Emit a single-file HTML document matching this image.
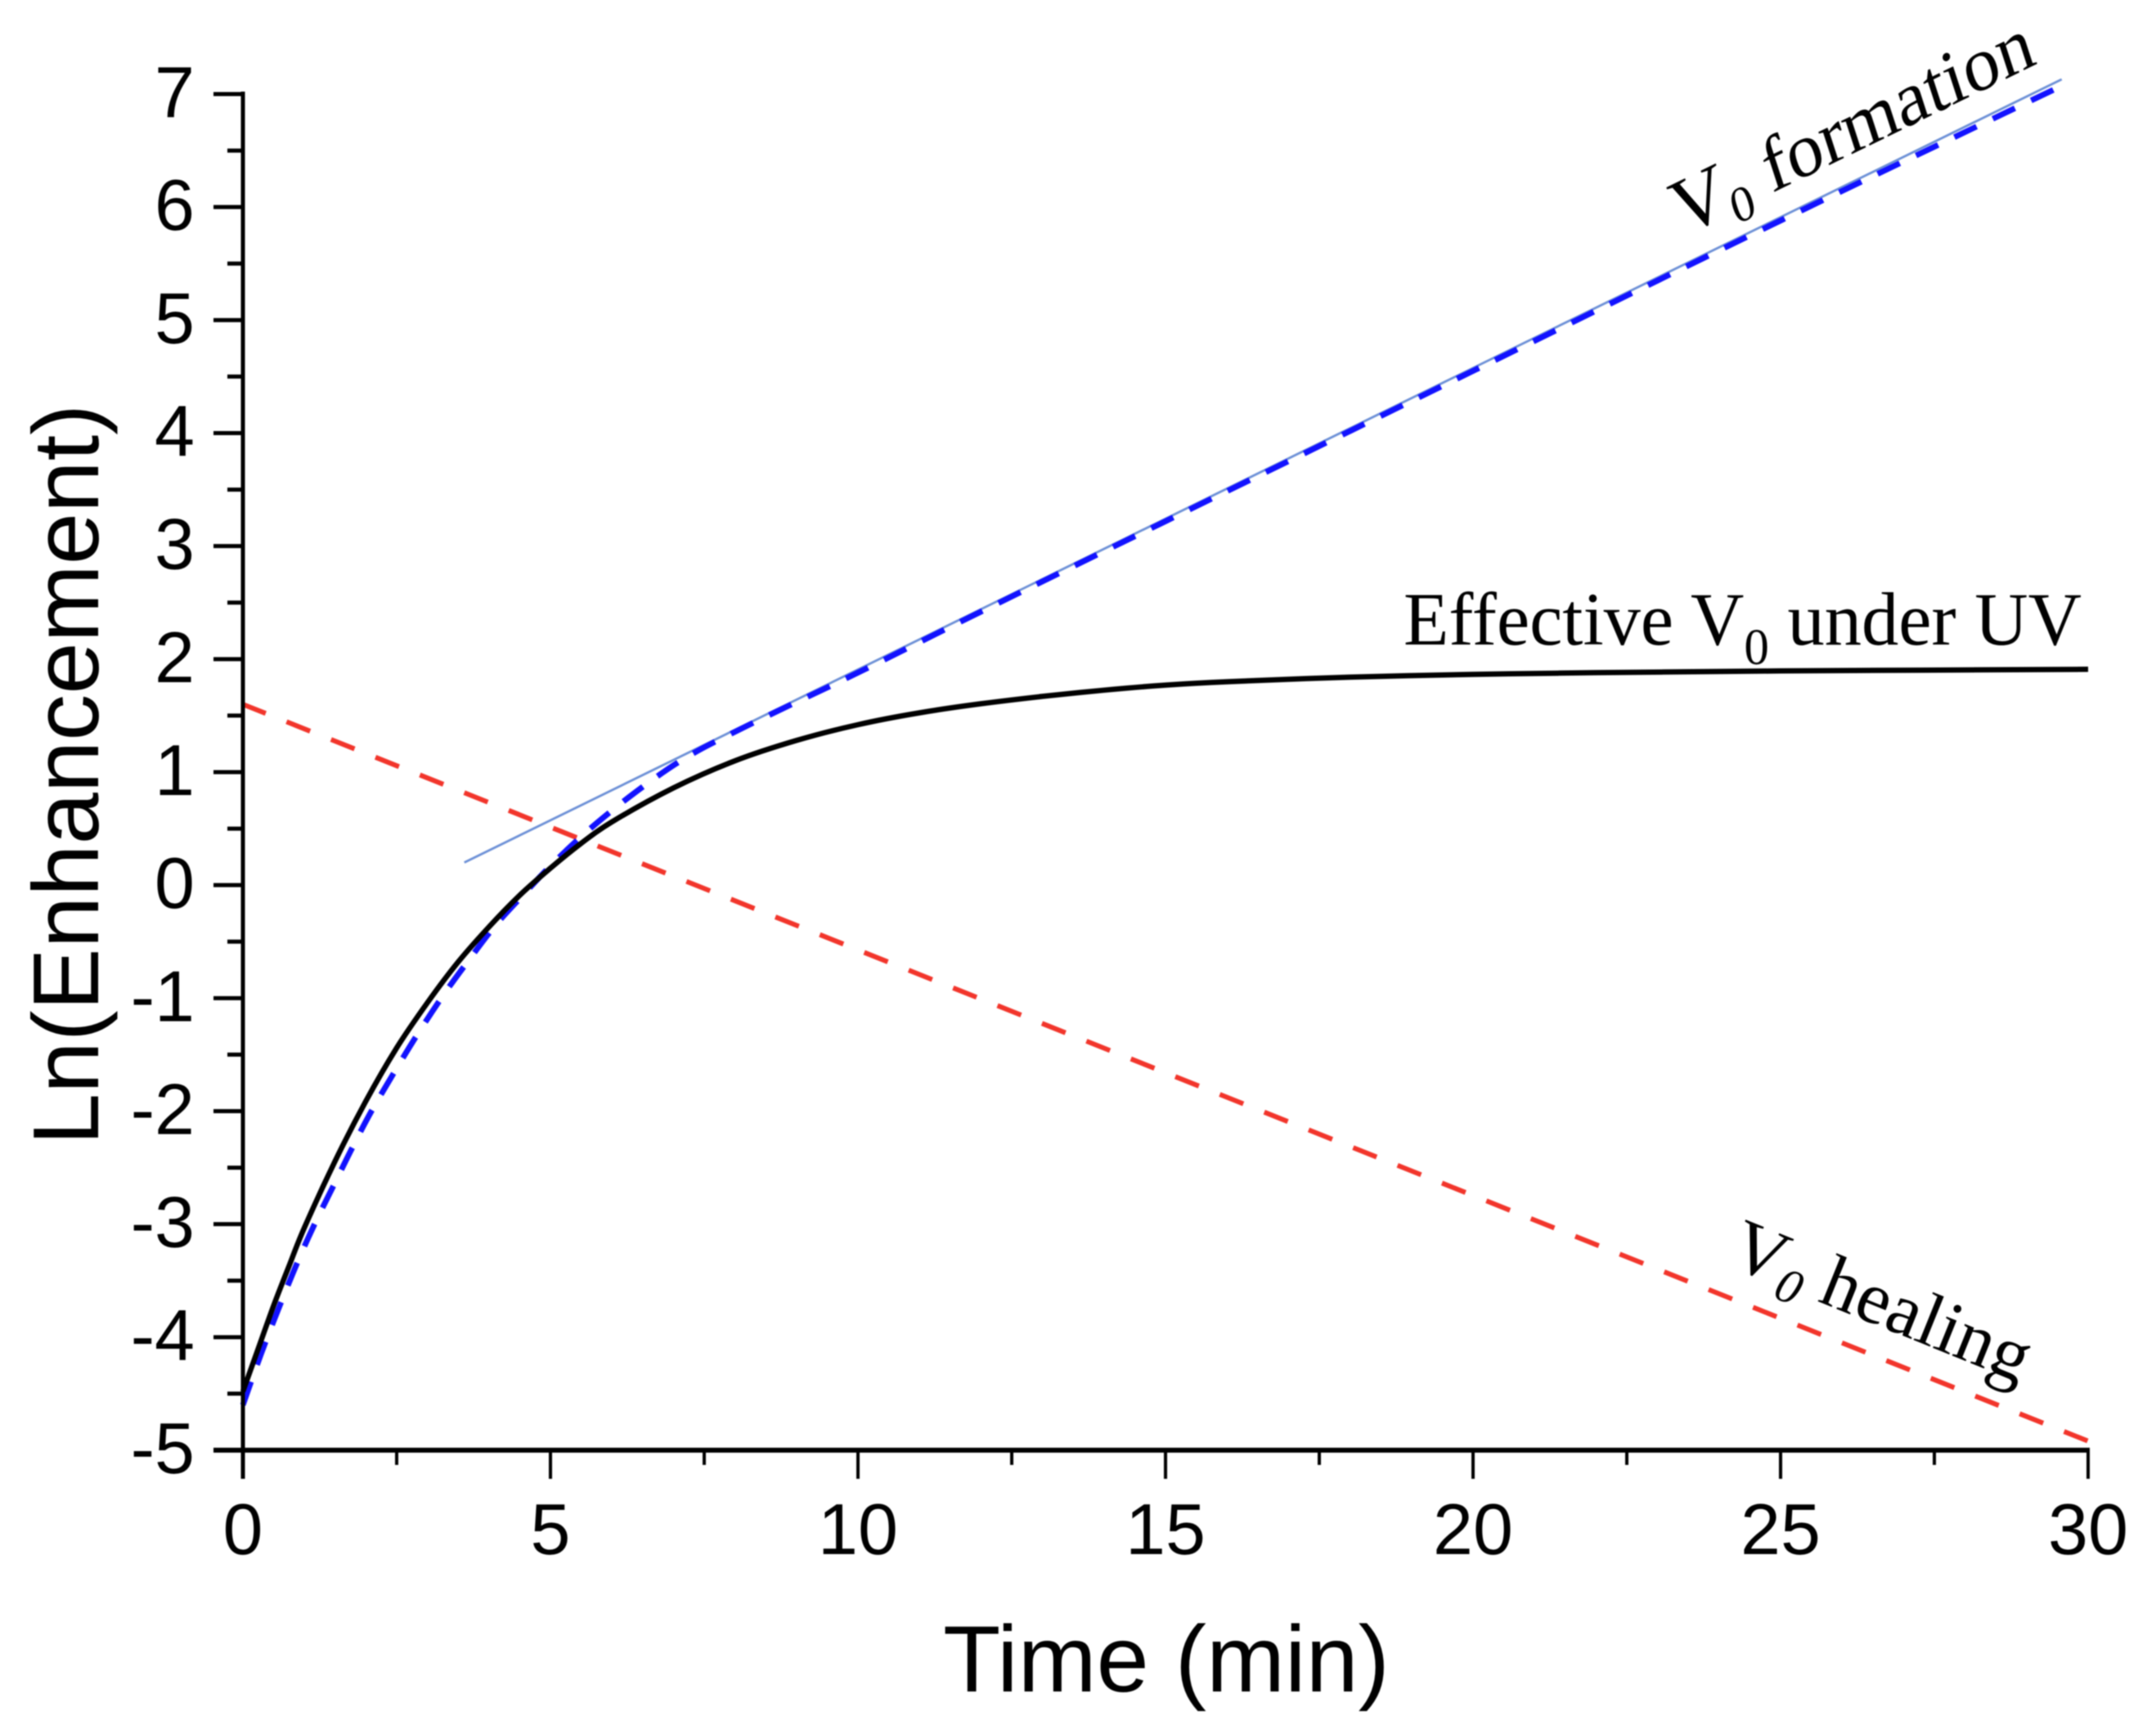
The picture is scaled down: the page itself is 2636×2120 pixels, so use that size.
<!DOCTYPE html>
<html>
<head>
<meta charset="utf-8">
<style>
html,body{margin:0;padding:0;background:#fff;}
svg{display:block;filter:blur(0.9px);}
.sans{font-family:"Liberation Sans",Arial,sans-serif;fill:#000;}
.serif{font-family:"Liberation Serif","Times New Roman",serif;fill:#000;}
</style>
</head>
<body>
<svg id="chart" xmlns="http://www.w3.org/2000/svg" width="2636" height="2120" viewBox="0 0 2636 2120">
  <rect x="0" y="0" width="2636" height="2120" fill="#fff"/>
  <g id="series"></g>
  <g id="axes"></g>
  <text class="sans" x="1153" y="2068" font-size="115" textLength="546" lengthAdjust="spacingAndGlyphs">Time (min)</text>
  <text class="sans" transform="translate(120,947) rotate(-90)" text-anchor="middle" font-size="114">Ln(Enhancement)</text>
  <text class="serif" x="1716" y="788" font-size="92" textLength="829" lengthAdjust="spacingAndGlyphs">Effective V<tspan font-size="62" dy="24">0</tspan><tspan dy="-24"> under UV</tspan></text>
  <text class="serif" transform="translate(2056,290) rotate(-26) skewX(-8)" font-size="96">V<tspan font-size="60" dy="16">0</tspan><tspan dy="-16" font-size="92"> formation</tspan></text>
  <text class="serif" transform="translate(2111,1546) rotate(22)" font-size="91">V<tspan font-size="60" font-style="italic" dy="16">0</tspan><tspan dy="-16"> healing</tspan></text>
</svg>
<script>
// Axis ticks
const xMajorTicks = [0, 5, 10, 15, 20, 25, 30];
const xMinorTicks = [2.5, 7.5, 12.5, 17.5, 22.5, 27.5];
const yMajorTicks = [7, 6, 5, 4, 3, 2, 1, 0, -1, -2, -3, -4, -5];
const yMinorTicks = [6.5, 5.5, 4.5, 3.5, 2.5, 1.5, 0.5, -0.5, -1.5, -2.5, -3.5, -4.5];

// Effective V0 under UV (black solid)
const effectiveTime = [0, 0.25, 0.5, 0.75, 1, 1.5, 2, 2.5, 3, 3.5, 4, 4.5, 5, 5.5, 6, 7, 8, 9, 10, 11, 12, 13, 14, 15, 16, 18, 20, 22, 25, 30];
const effectiveValue = [-4.48, -4.10, -3.72, -3.37, -3.03, -2.44, -1.91, -1.44, -1.04, -0.68, -0.37, -0.09, 0.15, 0.37, 0.56, 0.86, 1.10, 1.28, 1.42, 1.525, 1.605, 1.67, 1.725, 1.77, 1.80, 1.84, 1.865, 1.88, 1.895, 1.91];

// Blue dashed curve
const formationDashTime = [0, 0.3, 0.6, 0.9, 1.2, 1.5, 1.8, 2.1, 2.5, 2.85, 3.25, 3.65, 4.1, 4.55, 5, 5.5, 6, 6.5, 7, 7.4, 7.9, 8.5, 9, 10, 12, 15, 20, 25, 29.6];
const formationDashValue = [-4.6, -4.14, -3.72, -3.32, -2.96, -2.63, -2.3, -1.99, -1.62, -1.31, -0.98, -0.68, -0.36, -0.09, 0.17, 0.43, 0.66, 0.87, 1.06, 1.19, 1.33, 1.49, 1.62, 1.88, 2.42, 3.22, 4.55, 5.88, 7.08];

// Thin blue fit line
const formationFitTime = [3.6, 29.57];
const formationFitValue = [0.2, 7.13];

// Red dashed healing line
const healingTime = [0, 30];
const healingValue = [1.6, -4.92];

const NS = 'http://www.w3.org/2000/svg';
const axesLayer = document.getElementById('axes');
const seriesLayer = document.getElementById('series');

function xScale(t) { return 297 + t * (2553 - 297) / 30; }
function yScale(v) { return 115 + (7 - v) * (1773 - 115) / 12; }

function makeLine(x1, y1, x2, y2, w) {
  const l = document.createElementNS(NS, 'line');
  l.setAttribute('x1', x1);
  l.setAttribute('y1', y1);
  l.setAttribute('x2', x2);
  l.setAttribute('y2', y2);
  l.setAttribute('stroke', '#000');
  l.setAttribute('stroke-width', w);
  return l;
}

// Smooth Catmull-Rom curve through the data points
function smoothD(ts, vs) {
  const px = ts.map(xScale);
  const py = vs.map(yScale);
  let d = 'M' + px[0].toFixed(1) + ' ' + py[0].toFixed(1);
  for (let i = 0; i < px.length - 1; i++) {
    const i0 = Math.max(0, i - 1);
    const i3 = Math.min(px.length - 1, i + 2);
    const c1x = px[i] + (px[i + 1] - px[i0]) / 6;
    const c1y = py[i] + (py[i + 1] - py[i0]) / 6;
    const c2x = px[i + 1] - (px[i3] - px[i]) / 6;
    const c2y = py[i + 1] - (py[i3] - py[i]) / 6;
    d += ' C' + c1x.toFixed(1) + ' ' + c1y.toFixed(1) + ' ' + c2x.toFixed(1) + ' ' + c2y.toFixed(1) + ' ' + px[i + 1].toFixed(1) + ' ' + py[i + 1].toFixed(1);
  }
  return d;
}

function makePath(ts, vs, stroke, width, dash, offset) {
  const p = document.createElementNS(NS, 'path');
  p.setAttribute('d', smoothD(ts, vs));
  p.setAttribute('fill', 'none');
  p.setAttribute('stroke', stroke);
  p.setAttribute('stroke-width', width);
  p.setAttribute('stroke-linejoin', 'round');
  if (dash) p.setAttribute('stroke-dasharray', dash);
  if (offset) p.setAttribute('stroke-dashoffset', offset);
  return p;
}

const healingLine = makePath(healingTime, healingValue, '#f2352b', 6, '31 27.5', 1);


seriesLayer.appendChild(healingLine);

const fitLine = makePath(formationFitTime, formationFitValue, '#6b8fd6', 2.8, null, 0);


seriesLayer.appendChild(fitLine);

const dashLine = makePath(formationDashTime, formationDashValue, '#1212ff', 7, '30 22', 0);


seriesLayer.appendChild(dashLine);

const effectiveLine = makePath(effectiveTime, effectiveValue, '#000', 6.5, null, 0);


seriesLayer.appendChild(effectiveLine);

// Axis lines
const yAxisLine = makeLine(xScale(0), yScale(7) - 3, xScale(0), yScale(-5) + 35, 5);


axesLayer.appendChild(yAxisLine);

const xAxisLine = makeLine(xScale(0) - 36, yScale(-5), xScale(30) + 2, yScale(-5), 6);


axesLayer.appendChild(xAxisLine);

// X ticks
xMajorTicks.forEach(function (t) {
  const tick = makeLine(xScale(t), yScale(-5), xScale(t), yScale(-5) + 35, 4);
  
  
  axesLayer.appendChild(tick);
  const label = document.createElementNS(NS, 'text');
  
  
  label.setAttribute('class', 'sans');
  label.setAttribute('x', xScale(t));
  label.setAttribute('y', 1900);
  label.setAttribute('font-size', 88);
  label.setAttribute('text-anchor', 'middle');
  label.textContent = String(t);
  axesLayer.appendChild(label);
});
xMinorTicks.forEach(function (t) {
  const tick = makeLine(xScale(t), yScale(-5), xScale(t), yScale(-5) + 18, 4);
  
  
  axesLayer.appendChild(tick);
});

// Y ticks
yMajorTicks.forEach(function (v) {
  const tick = makeLine(xScale(0) - 36, yScale(v), xScale(0), yScale(v), 5);
  
  
  axesLayer.appendChild(tick);
  const label = document.createElementNS(NS, 'text');
  
  
  label.setAttribute('class', 'sans');
  label.setAttribute('x', 238);
  label.setAttribute('y', yScale(v) + 28);
  label.setAttribute('font-size', 88);
  label.setAttribute('text-anchor', 'end');
  label.textContent = String(v);
  axesLayer.appendChild(label);
});
yMinorTicks.forEach(function (v) {
  const tick = makeLine(xScale(0) - 19, yScale(v), xScale(0), yScale(v), 5);
  
  
  axesLayer.appendChild(tick);
});
</script>
</body>
</html>
